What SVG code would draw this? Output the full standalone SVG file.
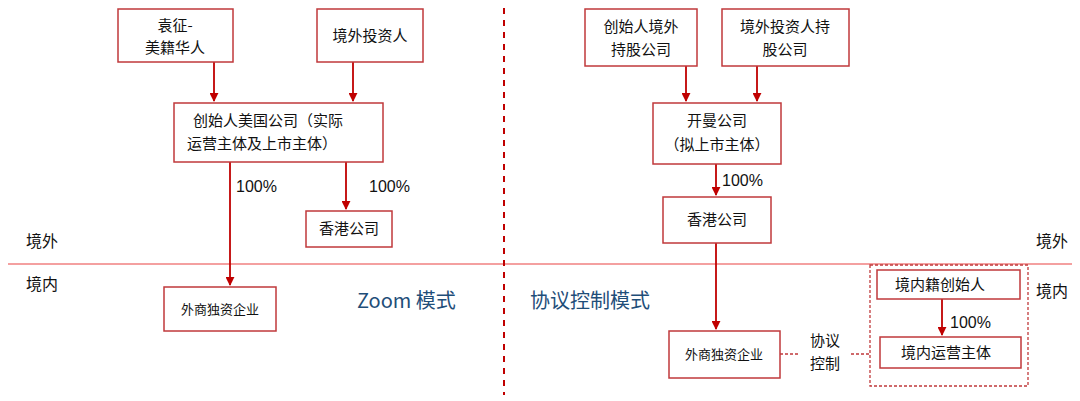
<svg xmlns="http://www.w3.org/2000/svg" width="1080" height="401" viewBox="0 0 1080 401">
<style>
.b{fill:#fff;stroke:#c0393b;stroke-width:1.5}
.t{font-family:"Noto Sans CJK SC",sans-serif;font-size:15px;fill:#111;text-anchor:middle}
.p{font-family:"Liberation Sans",sans-serif;font-size:16px;fill:#111}
.c{stroke:#c00000;stroke-width:1.8;fill:none}
.d{stroke:#c0393b;stroke-width:1.3;fill:none;stroke-dasharray:3,2}
.blue{font-family:"Noto Sans CJK SC",sans-serif;font-size:20px;fill:#1f4e79}
</style>
<defs><marker id="a" viewBox="0 0 10 10" refX="9" refY="5" markerWidth="5" markerHeight="5" orient="auto"><path d="M0,0L10,5L0,10z" fill="#c00000"/></marker></defs>
<rect width="1080" height="401" fill="#fff"/>
<line x1="8" y1="264" x2="1072" y2="264" stroke="#f08080" stroke-width="1.5"/>
<line x1="504" y1="8" x2="504" y2="395" stroke="#c00000" stroke-width="2" stroke-dasharray="6,6"/>
<g id="connectors">
<line class="c" x1="214" y1="62" x2="214" y2="101" marker-end="url(#a)"/>
<line class="c" x1="353" y1="62" x2="353" y2="101" marker-end="url(#a)"/>
<line class="c" x1="230" y1="162" x2="230" y2="285" marker-end="url(#a)"/>
<line class="c" x1="346" y1="162" x2="346" y2="209" marker-end="url(#a)"/>
<line class="c" x1="686" y1="66" x2="686" y2="101" marker-end="url(#a)"/>
<line class="c" x1="757" y1="66" x2="757" y2="101" marker-end="url(#a)"/>
<line class="c" x1="716" y1="164" x2="716" y2="195" marker-end="url(#a)"/>
<line class="c" x1="716" y1="243" x2="716" y2="329" marker-end="url(#a)"/>
<line class="c" x1="942" y1="299" x2="942" y2="335" marker-end="url(#a)"/>
<line class="d" x1="780" y1="354" x2="800" y2="354"/>
<line class="d" x1="851" y1="354" x2="870" y2="354"/>
<text class="p" x="236" y="192">100%</text>
<text class="p" x="369" y="192">100%</text>
<text class="p" x="722" y="186">100%</text>
<text class="p" x="950" y="328">100%</text>
<text class="t" x="825" y="346">协议</text>
<text class="t" x="825" y="369">控制</text>
</g>
<text class="t" x="42" y="247" style="font-size:16px">境外</text>
<text class="t" x="42" y="290" style="font-size:16px">境内</text>
<text class="t" x="1052" y="247" style="font-size:16px">境外</text>
<text class="t" x="1052" y="297" style="font-size:16px">境内</text>
<text class="blue" x="357" y="308">Zoom 模式</text>
<text class="blue" x="530" y="308">协议控制模式</text>
<g id="n1"><rect class="b" x="118" y="9" width="115" height="53"/><text class="t" x="175" y="31">袁征-</text><text class="t" x="175" y="53">美籍华人</text></g>
<g id="n2"><rect class="b" x="317" y="9" width="106" height="53"/><text class="t" x="370" y="41">境外投资人</text></g>
<g id="n3"><rect class="b" x="174" y="103" width="209" height="59"/><text class="t" x="268" y="126">创始人美国公司（实际</text><text class="t" x="262" y="149">运营主体及上市主体）</text></g>
<g id="n4"><rect class="b" x="306" y="211" width="86" height="36"/><text class="t" x="349" y="234">香港公司</text></g>
<g id="n5"><rect class="b" x="164" y="287" width="112" height="44"/><text class="t" x="220" y="314" style="font-size:13px">外商独资企业</text></g>
<g id="n6"><rect class="b" x="585" y="9" width="112" height="57"/><text class="t" x="641" y="32">创始人境外</text><text class="t" x="641" y="55">持股公司</text></g>
<g id="n7"><rect class="b" x="722" y="9" width="127" height="57"/><text class="t" x="785" y="32">境外投资人持</text><text class="t" x="785" y="55">股公司</text></g>
<g id="n8"><rect class="b" x="653" y="103" width="128" height="61"/><text class="t" x="717" y="126">开曼公司</text><text class="t" x="717" y="150">（拟上市主体）</text></g>
<g id="n9"><rect class="b" x="663" y="197" width="108" height="46"/><text class="t" x="717" y="225">香港公司</text></g>
<g id="n10"><rect class="b" x="669" y="331" width="111" height="47"/><text class="t" x="724" y="359" style="font-size:13px">外商独资企业</text></g>
<g id="n11"><rect class="d" x="870" y="265" width="158" height="121"/>
<rect class="b" x="877" y="270" width="143" height="29"/><text class="t" x="940" y="290">境内籍创始人</text>
<rect class="b" x="880" y="337" width="141" height="31"/><text class="t" x="946" y="358">境内运营主体</text></g>
</svg>
